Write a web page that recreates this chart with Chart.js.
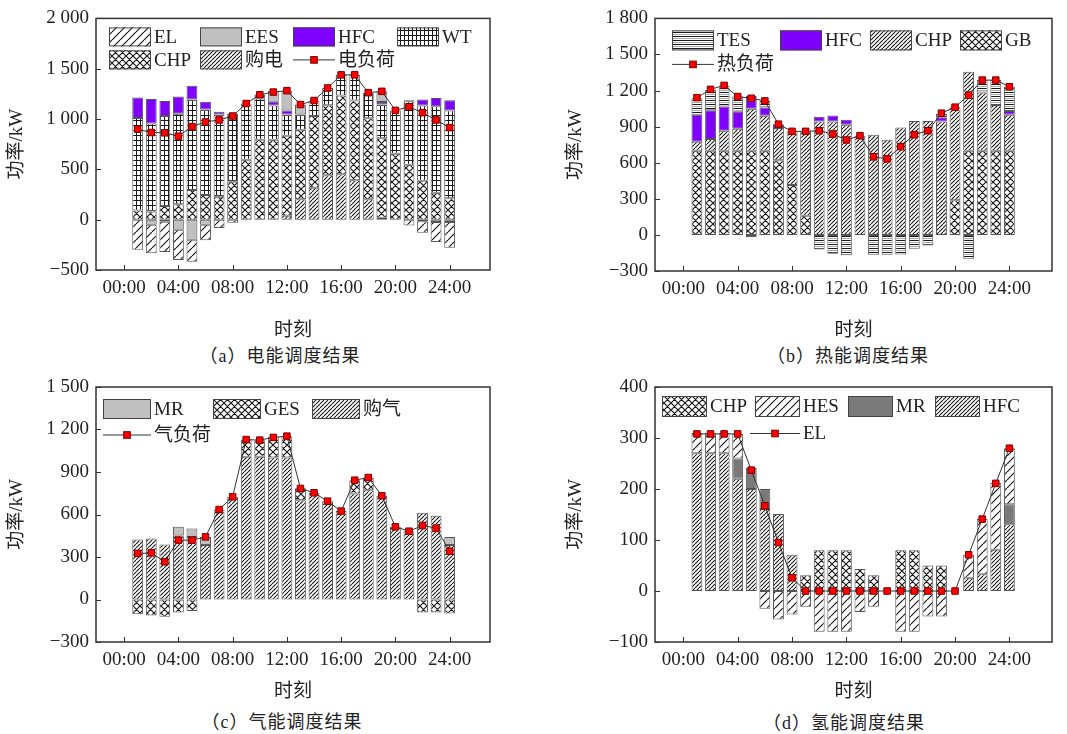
<!DOCTYPE html>
<html>
<head>
<meta charset="utf-8">
<script src="https://cdn.jsdelivr.net/npm/chart.js@4.4.0/dist/chart.umd.min.js"></script>
<style>
body{margin:0;background:#fff;width:1067px;height:734px;position:relative;overflow:hidden;
  font-family:"Liberation Serif","Noto Sans CJK SC",serif;}
canvas{position:absolute;}
.cap{position:absolute;width:300px;text-align:center;font-size:18px;color:#222;letter-spacing:1px;line-height:20px;
  font-family:"Liberation Serif","Noto Sans CJK SC",serif;}
</style>
</head>
<body>
<canvas id="ca" width="533" height="345" style="left:0;top:0"></canvas>
<canvas id="cb" width="508" height="345" style="left:559px;top:0"></canvas>
<canvas id="cc" width="533" height="340" style="left:0;top:368px"></canvas>
<canvas id="cd" width="508" height="340" style="left:559px;top:368px"></canvas>
<div class="cap" style="left:130px;top:346px">（a）电能调度结果</div>
<div class="cap" style="left:698px;top:346px">（b）热能调度结果</div>
<div class="cap" style="left:132px;top:712px">（c）气能调度结果</div>
<div class="cap" style="left:694px;top:713px">（d）氢能调度结果</div>
<script>
// hours of the day (bar positions) and axis ticks
const hours = [1,2,3,4,5,6,7,8,9,10,11,12,13,14,15,16,17,18,19,20,21,22,23,24];
const hourTicks = [0,4,8,12,16,20,24];
const ticksA = [-500,0,500,1000,1500,2000];
const ticksB = [-300,0,300,600,900,1200,1500,1800];
const ticksC = [-300,0,300,600,900,1200,1500];
const ticksD = [-100,0,100,200,300,400];

// (a) electric
const buyA  = [0,0,0,0,0,0,0,0,0,0,0,39,203,317,441,451,392,203,20,0,0,0,0,0];
const chpA  = [90,82,137,154,294,245,229,376,595,795,795,795,690,713,697,782,792,804,788,654,546,386,268,212];
const wtA   = [921,873,893,899,900,850,817,654,559,408,340,212,153,154,170,206,255,255,336,432,631,749,860,874];
const hfcA  = [203,245,150,170,137,76,27,26,0,40,36,40,0,0,0,0,0,0,26,0,10,59,82,101];
const eesA  = [0,-50,-20,-100,-200,-50,0,0,0,0,111,196,98,0,0,0,0,0,105,0,0,-16,-23,-23];
const elA   = [-300,-283,-300,-300,-219,-154,-82,-30,0,0,0,0,0,0,0,0,0,0,0,0,-59,-115,-199,-255];
const loadA = [899,866,863,830,925,971,991,1030,1154,1242,1268,1282,1144,1184,1308,1439,1439,1262,1275,1086,1122,1063,991,915];

// (b) heat
const gbB   = [700,700,700,700,700,700,620,415,160,0,0,0,0,0,0,0,0,0,0,289,700,700,700,700];
const chpB  = [75,97,166,183,348,290,268,446,701,943,943,916,825,833,792,894,946,946,943,773,656,485,381,298];
const hfcB  = [223,240,201,140,107,69,33,0,0,39,50,41,0,0,0,0,0,0,36,0,0,0,0,33];
const tesB  = [138,167,173,127,-20,55,0,0,0,-121,-157,-170,0,-165,-165,-162,-115,-88,27,0,-198,102,206,201];
const loadB = [1141,1210,1243,1150,1136,1114,921,861,861,866,839,789,825,649,632,734,833,866,1012,1062,1163,1287,1287,1232];

// (c) gas
const buyC  = [424,431,388,452,442,384,635,725,1007,1007,1002,1002,701,753,694,624,748,772,732,513,482,612,591,384];
const gesC  = [-104,-113,-122,-92,-82,0,0,0,122,118,146,151,85,0,0,0,94,89,0,0,0,-92,-92,-99];
const mrC   = [0,0,0,61,59,58,0,0,0,0,0,0,0,0,0,0,0,0,0,0,0,0,0,58];
const loadC = [325,329,266,419,419,442,635,725,1129,1125,1144,1153,784,753,694,624,842,861,732,513,482,522,504,341];

// (d) hydrogen
const hfcD = [270,270,270,220,200,161,151,71,0,0,0,0,0,0,0,0,0,0,0,0,26,33,81,131];
const mrD  = [0,0,0,40,41,39,0,0,0,0,0,0,0,0,0,0,0,0,0,0,0,0,0,39];
const hesD = [40,40,40,48,0,-35,-56,-46,-31,-80,-80,-80,-41,-31,0,-80,-80,-50,-50,0,45,108,131,110];
const chpD = [0,0,0,0,0,0,0,0,31,80,80,80,43,31,0,80,80,50,50,0,0,0,0,0];
const elD  = [308,308,308,308,237,167,95,26,0,0,0,0,0,0,0,0,0,0,0,0,71,141,211,280];

const FONT = '"Liberation Serif","Noto Sans CJK SC",serif';
Chart.defaults.font.family = FONT;
Chart.defaults.font.size = 19;
Chart.defaults.color = '#222';

// fill patterns
function pattern(kind) {
  const c = document.createElement('canvas');
  let w = 8, h = 8;
  if (kind === 'cross') { w = h = 7; }
  if (kind === 'dense') { w = h = 4; }
  if (kind === 'grid') { w = 4; h = 5; }
  if (kind === 'hline') { w = 4; h = 4; }
  c.width = w; c.height = h;
  const g = c.getContext('2d');
  g.fillStyle = '#fff';
  g.fillRect(0, 0, w, h);
  g.strokeStyle = '#1a1a1a';
  g.lineWidth = kind === 'dense' ? 1.1 : 1.2;
  g.beginPath();
  if (kind === 'sparse' || kind === 'dense' || kind === 'cross') {
    for (let k = -1; k <= 1; k++) {
      g.moveTo(k * w, h); g.lineTo(k * w + w, 0);
      if (kind === 'cross') { g.moveTo(k * w, 0); g.lineTo(k * w + w, h); }
    }
  } else if (kind === 'grid') {
    g.lineWidth = 1;
    g.moveTo(0.5, 0); g.lineTo(0.5, h);
    g.moveTo(0, 0.5); g.lineTo(w, 0.5);
  } else if (kind === 'hline') {
    g.lineWidth = 1;
    g.moveTo(0, 0.5); g.lineTo(w, 0.5);
  }
  g.stroke();
  if (kind === 'hline') {
    g.fillStyle = '#aaa';
    g.fillRect(0, 2, w, 1);
  }
  return g.createPattern(c, 'repeat');
}
const P = {
  sparse: pattern('sparse'), dense: pattern('dense'), cross: pattern('cross'),
  grid: pattern('grid'), hline: pattern('hline')
};
const PURPLE = '#7f00ff', LGRAY = '#c0c0c0', DGRAY = '#7a7a7a';

function bar(label, data, fill) {
  return {
    type: 'bar', label: label,
    data: hours.map((h, i) => ({x: h, y: data[i]})),
    backgroundColor: fill, borderColor: '#555', borderWidth: 1, borderSkipped: false,
    categoryPercentage: 0.8, barPercentage: 1
  };
}
function loadLine(label, data) {
  return {
    type: 'line', label: label,
    data: hours.map((h, i) => ({x: h, y: data[i]})),
    borderColor: '#333', borderWidth: 1, tension: 0, fill: false,
    pointStyle: 'rect', pointRadius: 4.6,
    pointBackgroundColor: '#f00', pointBorderColor: '#700', pointBorderWidth: 1,
    order: -1
  };
}

const fmtY = v => (v < 0 ? '\u2212' : '') + String(Math.abs(v)).replace(/\B(?=(\d{3})+(?!\d))/g, ' ');
const fmtX = v => String(v).padStart(2, '0') + ':00';

// frame + inward ticks
const frame = {
  id: 'frame',
  afterDatasetsDraw(chart) {
    const {ctx, chartArea: a, scales: {x, y}} = chart;
    ctx.save();
    ctx.strokeStyle = '#333';
    ctx.lineWidth = 1.5;
    ctx.strokeRect(a.left, a.top, a.right - a.left, a.bottom - a.top);
    ctx.lineWidth = 1;
    ctx.beginPath();
    x.ticks.forEach(t => {
      const p = Math.round(x.getPixelForValue(t.value)) + 0.5;
      ctx.moveTo(p, a.bottom); ctx.lineTo(p, a.bottom - 5);
    });
    y.ticks.forEach(t => {
      const p = Math.round(y.getPixelForValue(t.value)) + 0.5;
      ctx.moveTo(a.left, p); ctx.lineTo(a.left + 5, p);
    });
    ctx.stroke();
    ctx.restore();
  }
};

// legend drawn inside the plot
const innerLegend = {
  id: 'innerLegend',
  afterDatasetsDraw(chart, args, opts) {
    if (!opts.items) return;
    const {ctx, chartArea: a} = chart;
    ctx.save();
    ctx.font = '19px ' + FONT;
    ctx.textBaseline = 'middle';
    opts.items.forEach(it => {
      const ds = chart.data.datasets.find(d => d.label === it.label);
      const x = a.left + it.x, y = a.top + it.y, w = it.w || opts.w, h = opts.h;
      if (ds.type === 'line') {
        ctx.strokeStyle = '#333'; ctx.lineWidth = 1;
        ctx.beginPath(); ctx.moveTo(x, y + h / 2); ctx.lineTo(x + w, y + h / 2); ctx.stroke();
        ctx.fillStyle = '#f00'; ctx.strokeStyle = '#700';
        ctx.fillRect(x + w / 2 - 3.3, y + h / 2 - 3.3, 6.6, 6.6);
        ctx.strokeRect(x + w / 2 - 3.3, y + h / 2 - 3.3, 6.6, 6.6);
      } else {
        ctx.fillStyle = ds.backgroundColor;
        ctx.fillRect(x, y, w, h);
        ctx.strokeStyle = '#444'; ctx.lineWidth = 1;
        ctx.strokeRect(x + 0.5, y + 0.5, w - 1, h - 1);
      }
      ctx.fillStyle = '#222';
      ctx.fillText(it.label, x + w + 3, y + h / 2 + 1);
    });
    ctx.restore();
  }
};

function makeChart(id, g, datasets, yTicks, legend) {
  return new Chart(document.getElementById(id), {
    type: 'bar',
    data: {datasets: datasets},
    options: {
      responsive: false, animation: false, devicePixelRatio: 1,
      layout: {padding: {top: g.top, right: g.right, left: 0, bottom: 0}},
      plugins: {
        legend: {display: false}, tooltip: {enabled: false},
        innerLegend: {items: legend, w: g.sw, h: g.sh}
      },
      scales: {
        x: {
          type: 'linear', stacked: true, min: 0, max: g.xmax,
          afterBuildTicks: s => { s.ticks = hourTicks.map(v => ({value: v})); },
          afterFit: s => { s.height = g.xh; },
          grid: {display: false, drawTicks: false}, border: {display: false},
          ticks: {padding: 7, maxRotation: 0, autoSkip: false, callback: v => fmtX(v)},
          title: {display: true, text: '时刻', padding: {top: 0, bottom: g.tpb}}
        },
        y: {
          stacked: true, min: yTicks[0], max: yTicks[yTicks.length - 1],
          afterBuildTicks: s => { s.ticks = yTicks.map(v => ({value: v})); },
          afterFit: s => { s.width = 96; },
          grid: {display: false, drawTicks: false}, border: {display: false},
          ticks: {padding: 7, callback: v => fmtY(v)},
          title: {display: true, text: '功率/kW', padding: {top: 6, bottom: 0}}
        }
      }
    },
    plugins: [frame, innerLegend]
  });
}

makeChart('ca', {top: 17, right: 43, xh: 75, tpb: 3, xmax: 24.9, sw: 42, sh: 19}, [
  bar('购电', buyA, P.dense),
  bar('CHP', chpA, P.cross),
  bar('WT', wtA, P.grid),
  bar('HFC', hfcA, PURPLE),
  bar('EES', eesA, LGRAY),
  bar('EL', elA, P.sparse),
  loadLine('电负荷', loadA)
], ticksA, [
  {label: 'EL', x: 13, y: 9}, {label: 'EES', x: 104, y: 9}, {label: 'HFC', x: 197, y: 9}, {label: 'WT', x: 301, y: 9},
  {label: 'CHP', x: 13, y: 32}, {label: '购电', x: 104, y: 32}, {label: '电负荷', x: 197, y: 32}
]);

makeChart('cb', {top: 17, right: 15, xh: 74, tpb: 3, xmax: 25.05, sw: 42, sh: 20}, [
  bar('GB', gbB, P.cross),
  bar('CHP', chpB, P.dense),
  bar('HFC', hfcB, PURPLE),
  bar('TES', tesB, P.hline),
  loadLine('热负荷', loadB)
], ticksB, [
  {label: 'TES', x: 17, y: 12}, {label: 'HFC', x: 125, y: 12}, {label: 'CHP', x: 215, y: 12}, {label: 'GB', x: 305, y: 12},
  {label: '热负荷', x: 17, y: 36}
]);

makeChart('cc', {top: 19, right: 43, xh: 66, tpb: 5, xmax: 24.9, sw: 48, sh: 20}, [
  bar('购气', buyC, P.dense),
  bar('GES', gesC, P.cross),
  bar('MR', mrC, LGRAY),
  loadLine('气负荷', loadC)
], ticksC, [
  {label: 'MR', x: 7, y: 12}, {label: 'GES', x: 117, y: 12}, {label: '购气', x: 216, y: 12},
  {label: '气负荷', x: 7, y: 38}
]);

makeChart('cd', {top: 19, right: 15, xh: 66, tpb: 5, xmax: 25.05, sw: 45, sh: 21}, [
  bar('HFC', hfcD, P.dense),
  bar('MR', mrD, DGRAY),
  bar('HES', hesD, P.sparse),
  bar('CHP', chpD, P.cross),
  loadLine('EL', elD)
], ticksD, [
  {label: 'CHP', x: 7, y: 9}, {label: 'HES', x: 100, y: 9}, {label: 'MR', x: 193, y: 9}, {label: 'HFC', x: 280, y: 9},
  {label: 'EL', x: 95, y: 36, w: 50}
]);
</script>
</body>
</html>
